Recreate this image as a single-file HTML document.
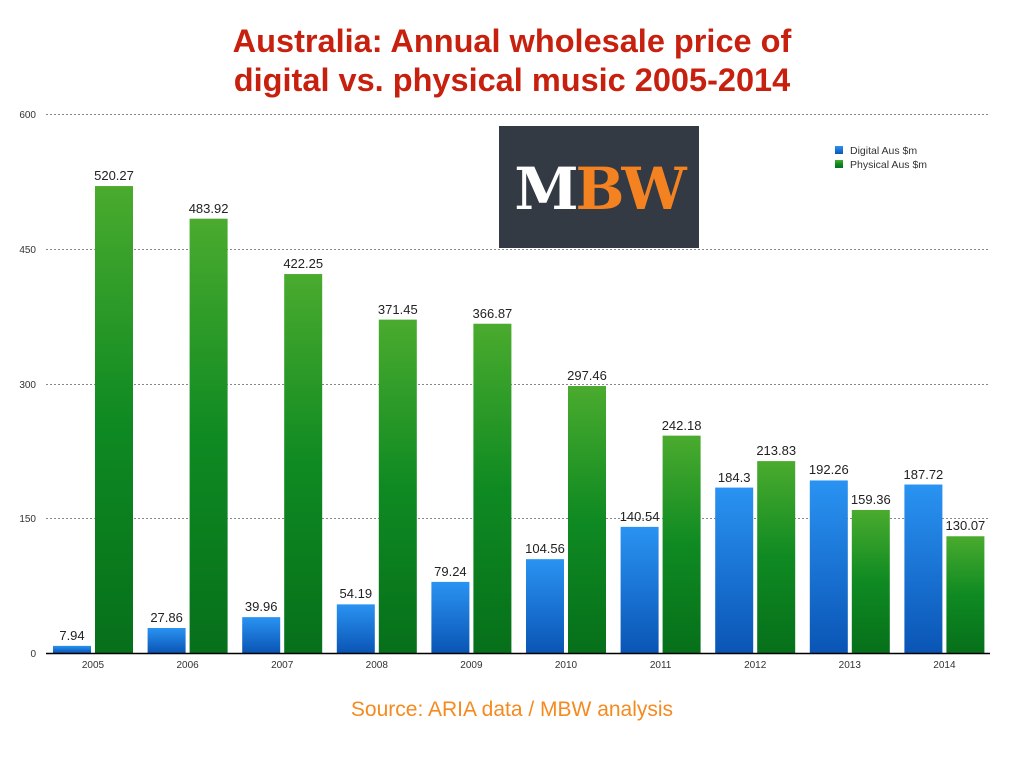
<!DOCTYPE html>
<html><head><meta charset="utf-8"><style>body{margin:0;background:#fff}svg{display:block}</style></head><body>
<svg width="1024" height="768" xmlns="http://www.w3.org/2000/svg" font-family="Liberation Sans, sans-serif">
<defs>
<linearGradient id="b" x1="0" y1="0" x2="0" y2="1"><stop offset="0" stop-color="#2a93f2"/><stop offset="1" stop-color="#0a55b5"/></linearGradient>
<linearGradient id="g" x1="0" y1="0" x2="0" y2="1"><stop offset="0" stop-color="#4aab2e"/><stop offset="0.5" stop-color="#0f8a22"/><stop offset="1" stop-color="#06701a"/></linearGradient>
</defs>
<text x="512" y="52" text-anchor="middle" font-size="32.5" font-weight="bold" fill="#c8200e">Australia: Annual wholesale price of</text>
<text x="512" y="91" text-anchor="middle" font-size="32.5" font-weight="bold" fill="#c8200e">digital vs. physical music 2005-2014</text>
<g stroke="#888" stroke-dasharray="2,2" stroke-width="1">
<line x1="46" y1="114.5" x2="990" y2="114.5"/><line x1="46" y1="249.5" x2="990" y2="249.5"/><line x1="46" y1="384.5" x2="990" y2="384.5"/><line x1="46" y1="518.5" x2="990" y2="518.5"/>
</g>
<g font-size="10" fill="#333" text-anchor="end">
<text x="36" y="118">600</text><text x="36" y="253">450</text><text x="36" y="388">300</text><text x="36" y="522">150</text><text x="36" y="657">0</text>
</g>
<rect x="499" y="126" width="200" height="122" fill="#333a44"/>
<text x="599" y="209" text-anchor="middle" font-family="DejaVu Serif, serif" font-weight="bold" font-size="58" letter-spacing="-3"><tspan fill="#fff">M</tspan><tspan fill="#f58220">BW</tspan></text>
<rect x="835" y="146" width="8" height="8" fill="url(#b)"/><text x="850" y="154" font-size="10.5" fill="#333">Digital Aus $m</text>
<rect x="835" y="160" width="8" height="8" fill="url(#g)"/><text x="850" y="168" font-size="10.5" fill="#333">Physical Aus $m</text>
<g>
<rect x="53" y="645.87" width="38" height="7.13" fill="url(#b)"/><rect x="95" y="186.06" width="38" height="466.94" fill="url(#g)"/>
<rect x="147.6" y="628" width="38" height="25" fill="url(#b)"/><rect x="189.6" y="218.68" width="38" height="434.32" fill="url(#g)"/>
<rect x="242.2" y="617.14" width="38" height="35.86" fill="url(#b)"/><rect x="284.2" y="274.03" width="38" height="378.97" fill="url(#g)"/>
<rect x="336.8" y="604.36" width="38" height="48.64" fill="url(#b)"/><rect x="378.8" y="319.62" width="38" height="333.38" fill="url(#g)"/>
<rect x="431.4" y="581.88" width="38" height="71.12" fill="url(#b)"/><rect x="473.4" y="323.73" width="38" height="329.27" fill="url(#g)"/>
<rect x="526" y="559.16" width="38" height="93.84" fill="url(#b)"/><rect x="568" y="386.03" width="38" height="266.97" fill="url(#g)"/>
<rect x="620.6" y="526.87" width="38" height="126.13" fill="url(#b)"/><rect x="662.6" y="435.64" width="38" height="217.36" fill="url(#g)"/>
<rect x="715.2" y="487.59" width="38" height="165.41" fill="url(#b)"/><rect x="757.2" y="461.09" width="38" height="191.91" fill="url(#g)"/>
<rect x="809.8" y="480.45" width="38" height="172.55" fill="url(#b)"/><rect x="851.8" y="509.98" width="38" height="143.02" fill="url(#g)"/>
<rect x="904.4" y="484.52" width="38" height="168.48" fill="url(#b)"/><rect x="946.4" y="536.26" width="38" height="116.74" fill="url(#g)"/>
</g>
<g font-size="13" fill="#222" text-anchor="middle">
<text x="72" y="640">7.94</text><text x="114" y="180">520.27</text>
<text x="166.6" y="622">27.86</text><text x="208.6" y="213">483.92</text>
<text x="261.2" y="611">39.96</text><text x="303.2" y="268">422.25</text>
<text x="355.8" y="598">54.19</text><text x="397.8" y="314">371.45</text>
<text x="450.4" y="576">79.24</text><text x="492.4" y="318">366.87</text>
<text x="545" y="553">104.56</text><text x="587" y="380">297.46</text>
<text x="639.6" y="521">140.54</text><text x="681.6" y="430">242.18</text>
<text x="734.2" y="482">184.3</text><text x="776.2" y="455">213.83</text>
<text x="828.8" y="474">192.26</text><text x="870.8" y="504">159.36</text>
<text x="923.4" y="479">187.72</text><text x="965.4" y="530">130.07</text>
</g>
<line x1="46" y1="653.5" x2="990" y2="653.5" stroke="#000" stroke-width="1.5"/>
<g font-size="10" fill="#333" text-anchor="middle">
<text x="93" y="668">2005</text><text x="187.6" y="668">2006</text><text x="282.2" y="668">2007</text><text x="376.8" y="668">2008</text><text x="471.4" y="668">2009</text><text x="566" y="668">2010</text><text x="660.6" y="668">2011</text><text x="755.2" y="668">2012</text><text x="849.8" y="668">2013</text><text x="944.4" y="668">2014</text>
</g>
<text x="512" y="716" text-anchor="middle" font-size="21" fill="#f58a1f">Source: ARIA data / MBW analysis</text>
</svg>
</body></html>
